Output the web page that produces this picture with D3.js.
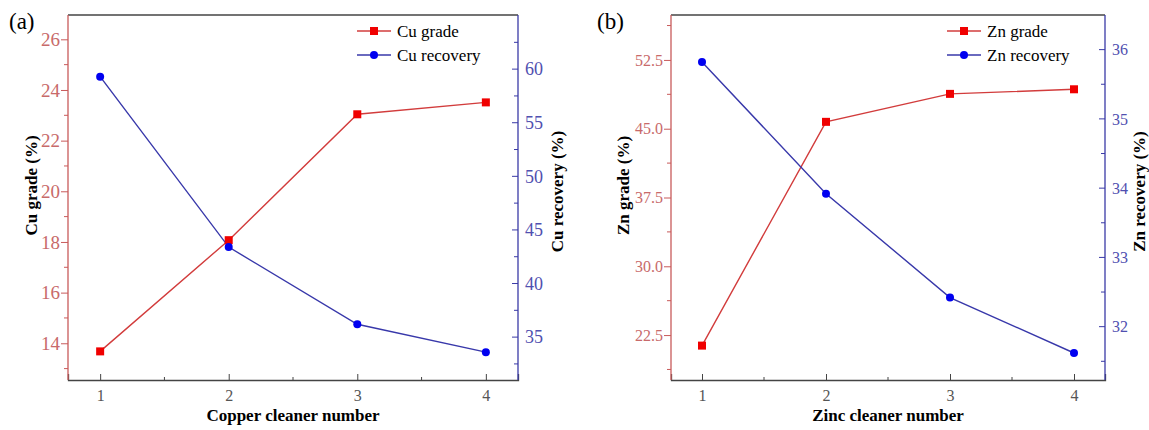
<!DOCTYPE html>
<html lang="en">
<head>
<meta charset="UTF-8">
<title>Cleaner number</title>
<script src="https://d3js.org/d3.v7.min.js"></script>
<style>
  body { margin: 0; background: #fff; }
</style>
</head>
<body>
<script>
// data
var cleaners = [1, 2, 3, 4];
var cuGrade = [13.68, 18.07, 23.04, 23.51];
var cuRecovery = [59.3, 43.4, 36.2, 33.6];
var znGrade = [21.35, 45.75, 48.8, 49.3];
var znRecovery = [35.82, 33.92, 32.42, 31.62];

// axis ranges and ticks
var xRange = [0.75, 4.25];
var xTicks = [1, 2, 3, 4];
var xMinor = [1.5, 2.5, 3.5];
var cuGradeRange = [12.55, 26.96];
var cuGradeTicks = [14, 16, 18, 20, 22, 24, 26];
var cuRecRange = [31.0, 65.05];
var cuRecTicks = [35, 40, 45, 50, 55, 60];
var znGradeRange = [17.6, 57.4];
var znGradeTicks = [22.5, 30, 37.5, 45, 52.5];
var znRecRange = [31.23, 36.5];
var znRecTicks = [32, 33, 34, 35, 36];

var W = 1149, H = 430;
var FONT = "Liberation Serif";
var svg = d3.select("body").append("svg").attr("width", W).attr("height", H)
  .attr("font-family", FONT);

var red = "#c85a5a", redText = "#c86a6a", redLine = "#d23c3c", redMark = "#f00000";
var blue = "#3a3aa6", blueText = "#5050b0", blueLine = "#3838aa", blueMark = "#0000f0";

function minorOf(ticks) {
  var step = ticks[1] - ticks[0], out = [];
  out.push(ticks[0] - step / 2);
  ticks.forEach(function(t) { out.push(t + step / 2); });
  return out;
}

function panel(o) {
  var g = svg.append("g").attr("font-family", FONT);
  var x = d3.scaleLinear().domain(xRange).range([o.left, o.right]);
  var yl = d3.scaleLinear().domain(o.lRange).range([o.bottom, o.top]);
  var yr = d3.scaleLinear().domain(o.rRange).range([o.bottom, o.top]);

  // top frame
  g.append("line").attr("x1", o.left).attr("x2", o.right).attr("y1", o.top).attr("y2", o.top)
    .attr("stroke", "#444").attr("stroke-width", 1.3);

  // x axis, ticks inward
  var xa = g.append("g").attr("transform", "translate(0," + o.bottom + ")")
    .call(d3.axisBottom(x).tickValues(xTicks).tickSize(-6).tickPadding(10).tickFormat(d3.format("d")));
  xa.attr("font-family", FONT);
  xa.select(".domain").attr("stroke", "#444").attr("stroke-width", 1.3);
  xa.selectAll(".tick line").attr("stroke", "#444");
  xa.selectAll("text").attr("fill", "#555").attr("font-size", 16);
  xMinor.forEach(function(v) {
    g.append("line").attr("x1", x(v)).attr("x2", x(v)).attr("y1", o.bottom).attr("y2", o.bottom - 3)
      .attr("stroke", "#444");
  });

  // left axis, ticks outward
  var la = g.append("g").attr("transform", "translate(" + o.left + ",0)")
    .call(d3.axisLeft(yl).tickValues(o.lTicks).tickSize(7).tickPadding(1).tickFormat(o.lFmt));
  la.attr("font-family", FONT);
  la.select(".domain").attr("stroke", red).attr("stroke-width", 1.3).attr("d", "M0," + o.top + "V" + o.bottom);
  la.selectAll(".tick line").attr("stroke", red);
  la.selectAll("text").attr("fill", redText).attr("font-size", o.lSize);
  minorOf(o.lTicks).forEach(function(v) {
    if (v <= o.lRange[0] || v >= o.lRange[1]) return;
    g.append("line").attr("x1", o.left).attr("x2", o.left - 4).attr("y1", yl(v)).attr("y2", yl(v)).attr("stroke", red);
  });

  // right axis, ticks inward, labels outside
  var ra = g.append("g").attr("transform", "translate(" + o.right + ",0)")
    .call(d3.axisRight(yr).tickValues(o.rTicks).tickSize(0).tickPadding(7).tickFormat(d3.format("d")));
  ra.attr("font-family", FONT);
  ra.select(".domain").attr("stroke", blue).attr("stroke-width", 1.3).attr("d", "M0," + o.top + "V" + o.bottom);
  ra.selectAll("text").attr("fill", blueText).attr("font-size", o.rSize);
  o.rTicks.forEach(function(v) {
    g.append("line").attr("x1", o.right).attr("x2", o.right - 6).attr("y1", yr(v)).attr("y2", yr(v)).attr("stroke", blue);
  });
  minorOf(o.rTicks).forEach(function(v) {
    if (v <= o.rRange[0] || v >= o.rRange[1]) return;
    g.append("line").attr("x1", o.right).attr("x2", o.right - 4).attr("y1", yr(v)).attr("y2", yr(v)).attr("stroke", blue);
  });

  // series
  var lineL = d3.line().x(function(d, i) { return x(cleaners[i]); }).y(function(d) { return yl(d); });
  var lineR = d3.line().x(function(d, i) { return x(cleaners[i]); }).y(function(d) { return yr(d); });
  g.append("path").attr("d", lineL(o.lData)).attr("fill", "none").attr("stroke", redLine).attr("stroke-width", 1.4);
  g.append("path").attr("d", lineR(o.rData)).attr("fill", "none").attr("stroke", blueLine).attr("stroke-width", 1.4);
  g.selectAll(".sq").data(o.lData).enter().append("rect")
    .attr("x", function(d, i) { return x(cleaners[i]) - 4; }).attr("y", function(d) { return yl(d) - 4; })
    .attr("width", 8).attr("height", 8).attr("fill", redMark);
  g.selectAll(".ci").data(o.rData).enter().append("circle")
    .attr("cx", function(d, i) { return x(cleaners[i]); }).attr("cy", function(d) { return yr(d); })
    .attr("r", 4).attr("fill", blueMark);

  // axis titles
  var midY = (o.top + o.bottom) / 2;
  g.append("text").attr("x", (o.left + o.right) / 2).attr("y", 421).attr("text-anchor", "middle")
    .attr("font-size", 17).attr("font-weight", "bold").text(o.xTitle);
  g.append("text").attr("transform", "translate(" + o.lTitleX + "," + (midY - 12) + ") rotate(-90)")
    .attr("text-anchor", "middle").attr("dy", "0.35em")
    .attr("font-size", 17).attr("font-weight", "bold").text(o.lTitle);
  g.append("text").attr("transform", "translate(" + o.rTitleX + "," + (midY - 6) + ") rotate(-90)")
    .attr("text-anchor", "middle").attr("dy", "0.35em")
    .attr("font-size", 17).attr("font-weight", "bold").text(o.rTitle);

  // panel letter
  g.append("text").attr("x", o.tagX).attr("y", 29).attr("font-size", 23).text(o.tag);

  // legend
  var lg = g.append("g").attr("transform", "translate(" + o.legX + ",0)");
  [[o.lName, redLine, "sq", 31], [o.rName, blueLine, "ci", 55]].forEach(function(it) {
    lg.append("line").attr("x1", 0).attr("x2", 34).attr("y1", it[3]).attr("y2", it[3])
      .attr("stroke", it[1]).attr("stroke-width", 1.4);
    if (it[2] === "sq") lg.append("rect").attr("x", 13).attr("y", it[3] - 4).attr("width", 8).attr("height", 8).attr("fill", redMark);
    else lg.append("circle").attr("cx", 17).attr("cy", it[3]).attr("r", 4).attr("fill", blueMark);
    lg.append("text").attr("x", 40).attr("y", it[3]).attr("dy", "0.35em").attr("font-size", 17).text(it[0]);
  });
}

panel({
  left: 68, right: 518, top: 15, bottom: 380,
  lRange: cuGradeRange, lTicks: cuGradeTicks, lFmt: d3.format("d"), lSize: 19,
  rRange: cuRecRange, rTicks: cuRecTicks, rSize: 18,
  lData: cuGrade, rData: cuRecovery,
  xTitle: "Copper cleaner number", lTitle: "Cu grade (%)", rTitle: "Cu recovery (%)",
  lTitleX: 31, rTitleX: 557, tag: "(a)", tagX: 9, legX: 357,
  lName: "Cu grade", rName: "Cu recovery"
});

panel({
  left: 671, right: 1105, top: 15, bottom: 380,
  lRange: znGradeRange, lTicks: znGradeTicks, lFmt: d3.format(".1f"), lSize: 16,
  rRange: znRecRange, rTicks: znRecTicks, rSize: 16,
  lData: znGrade, rData: znRecovery,
  xTitle: "Zinc cleaner number", lTitle: "Zn grade (%)", rTitle: "Zn recovery (%)",
  lTitleX: 623, rTitleX: 1139, tag: "(b)", tagX: 597, legX: 947,
  lName: "Zn grade", rName: "Zn recovery"
});
</script>
</body>
</html>
